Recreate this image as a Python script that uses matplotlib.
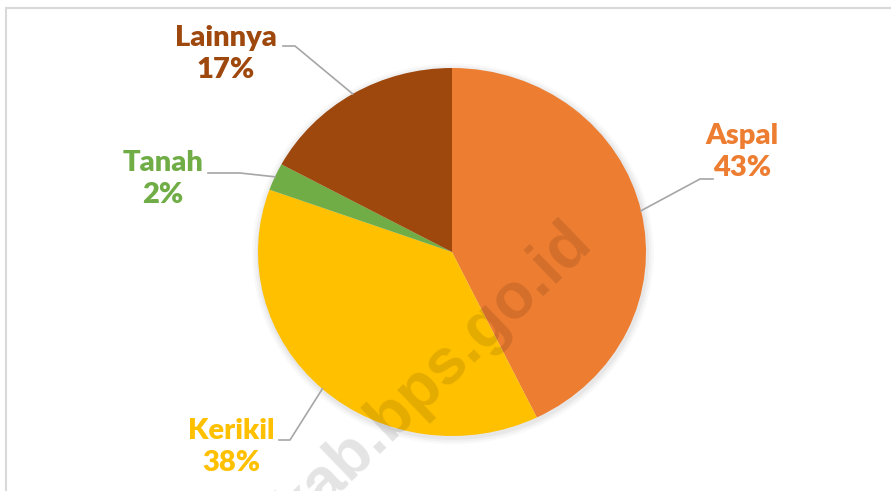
import numpy as np
import matplotlib.pyplot as plt
from matplotlib.patches import Ellipse, Rectangle

# data
kategori = ["Aspal", "Kerikil", "Tanah", "Lainnya"]
persen = [42.8, 37.7, 2.4, 17.1]
warna = ["#ED7D31", "#FFC000", "#70AD47", "#9E480E"]

# layout in pixels (figure 891x491)
W, H = 891, 491
CX, CY, RX, RY = 452, 252, 194, 184
label_px = {"Aspal": (742, 152), "Kerikil": (231, 447), "Tanah": (163, 179), "Lainnya": (226, 54)}
# leader: (end near label, elbow)
leader_px = {"Aspal": [(713, 179), (700, 179)], "Kerikil": [(279, 440), (290, 440)],
             "Tanah": [(208, 173), (240, 173)], "Lainnya": [(283, 46), (295, 46)]}


def px2d(px, py):
    return (px - CX) / RX, (CY - py) / RY


fig = plt.figure(figsize=(W / 100, H / 100), dpi=100)
ax = fig.add_axes([0, 0, 1, 1])

# bingkai
ax.add_patch(Rectangle(px2d(6, H + 20), (W + 20 - 6) / RX, (H + 20 - 8) / RY,
                       fill=False, ec="#D9D9D9", lw=1.5, zorder=0))

# bayangan lembut
for i, a in enumerate([0.025, 0.03, 0.04]):
    s = 1.035 - i * 0.012
    ax.add_patch(Ellipse((0.005, -0.01), 2 * s, 2 * s, fc="black", ec="none", alpha=a, zorder=1))

wedges, _ = ax.pie(persen, colors=warna, startangle=90, counterclock=False,
                   radius=1, center=(0, 0), frame=True,
                   wedgeprops=dict(linewidth=0, zorder=2))
ax.set_xlim(px2d(0, 0)[0], px2d(W, 0)[0])
ax.set_ylim(px2d(0, H)[1], px2d(0, 0)[1])
ax.set_aspect("auto")
ax.axis("off")

for w, nama, p, c in zip(wedges, kategori, persen, warna):
    ang = np.deg2rad((w.theta1 + w.theta2) / 2)
    ex, ey = np.cos(ang), np.sin(ang)
    p1 = px2d(*leader_px[nama][0])
    p2 = px2d(*leader_px[nama][1])
    ax.plot([p1[0], p2[0], ex], [p1[1], p2[1], ey], color="#A6A6A6", lw=1.2, zorder=3)
    lx, ly = px2d(*label_px[nama])
    ax.text(lx, ly, f"{nama}\n{p:.0f}%", color=c, ha="center", va="center",
            fontsize=21, fontweight="heavy", family=["Lato", "DejaVu Sans"],
            linespacing=1.3, zorder=4)

# watermark
wx, wy = px2d(594, 244)
ax.text(wx, wy, "kab.bps.go.id", rotation=44, rotation_mode="anchor",
        ha="right", va="baseline", fontsize=46, fontweight="bold",
        family=["Liberation Sans", "DejaVu Sans"], color="black", alpha=0.11, zorder=5)

fig.savefig("out.png", dpi=100)
